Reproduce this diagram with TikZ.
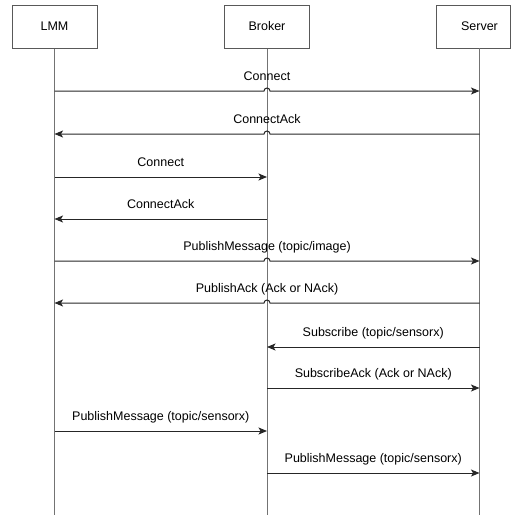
\documentclass[tikz,border=0pt]{standalone}
\usepackage{fontspec}
\setmainfont{Liberation Sans}
\usetikzlibrary{arrows.meta}
\begin{document}
\begin{tikzpicture}[x=1pt,y=1pt,
  actor/.style={draw=black!65,line width=1pt,minimum width=85pt,minimum height=43pt,inner sep=0pt,font=\fontsize{12.5}{15}\selectfont},
  lifeline/.style={draw=black!55,line width=1pt},
  msg/.style={draw=black!85,line width=1pt,-{Stealth[length=8.5pt,width=7pt,inset=2pt]}},
  lbl/.style={font=\fontsize{12.5}{15}\selectfont,anchor=base,inner sep=0pt,text=black}]
\useasboundingbox (0,0) rectangle (511,-515);
% actors
\node[actor] (lmm) at (54.5,-26.5) {LMM};
\node[actor] (brk) at (267,-26.5) {Broker};
\node[actor,minimum width=74pt] (srv) at (473.5,-26.5) {\hspace*{12pt}Server};
% lifelines
\coordinate (srvL) at (479.5,-48);
\coordinate (lmmE) at (54.5,-515);
\coordinate (brkE) at (267,-515);
\coordinate (srvE) at (479.5,-515);
\draw[lifeline] (lmm.south) -- (lmmE);
\draw[lifeline] (brk.south) -- (brkE);
\draw[lifeline] (srvL) -- (srvE);
% message rows
\coordinate (m1) at (0,-91);
\coordinate (m2) at (0,-134);
\coordinate (m3) at (0,-177);
\coordinate (m4) at (0,-219);
\coordinate (m5) at (0,-261);
\coordinate (m6) at (0,-303);
\coordinate (m7) at (0,-347);
\coordinate (m8) at (0,-388);
\coordinate (m9) at (0,-431);
\coordinate (m10) at (0,-473);
% messages
\draw[msg] (lmm |- m1) -- ([xshift=-3pt]brk |- m1) arc[start angle=180,end angle=0,radius=3pt] -- (srvL |- m1);
\node[lbl] (t1) at (267,-80.5) {Connect};
\draw[msg] (srvL |- m2) -- ([xshift=3pt]brk |- m2) arc[start angle=0,end angle=180,radius=3pt] -- (lmm |- m2);
\node[lbl] (t2) at (267,-123.5) {ConnectAck};
\draw[msg] (lmm |- m3) -- (brk |- m3);
\node[lbl] (t3) at (160.75,-166.5) {Connect};
\draw[msg] (brk |- m4) -- (lmm |- m4);
\node[lbl] (t4) at (160.75,-208.5) {ConnectAck};
\draw[msg] (lmm |- m5) -- ([xshift=-3pt]brk |- m5) arc[start angle=180,end angle=0,radius=3pt] -- (srvL |- m5);
\node[lbl] (t5) at (267,-250.5) {PublishMessage (topic/image)};
\draw[msg] (srvL |- m6) -- ([xshift=3pt]brk |- m6) arc[start angle=0,end angle=180,radius=3pt] -- (lmm |- m6);
\node[lbl] (t6) at (267,-292.5) {PublishAck (Ack or NAck)};
\draw[msg] (srvL |- m7) -- (brk |- m7);
\node[lbl] (t7) at (373.25,-336.5) {Subscribe (topic/sensorx)};
\draw[msg] (brk |- m8) -- (srvL |- m8);
\node[lbl] (t8) at (373.25,-377.5) {SubscribeAck (Ack or NAck)};
\draw[msg] (lmm |- m9) -- (brk |- m9);
\node[lbl] (t9) at (160.75,-420.5) {PublishMessage (topic/sensorx)};
\draw[msg] (brk |- m10) -- (srvL |- m10);
\node[lbl] (t10) at (373.25,-462.5) {PublishMessage (topic/sensorx)};
\end{tikzpicture}
\end{document}
